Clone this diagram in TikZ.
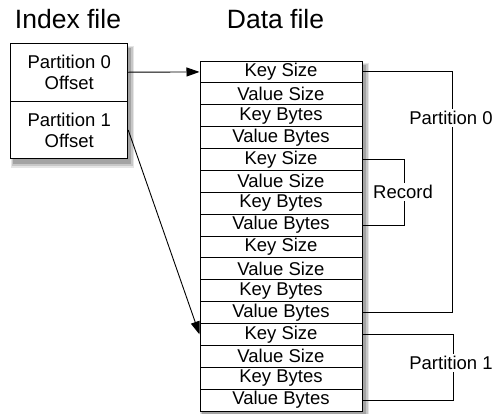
\documentclass[tikz,border=0pt]{standalone}
\usepackage{fontspec}
\setmainfont{Liberation Sans}
\usetikzlibrary{arrows.meta}

\tikzset{
  cell/.style={draw, line width=1pt, minimum width=162pt, minimum height=21.875pt,
    inner sep=0pt, font=\fontsize{18.5}{18.5}\selectfont},
  idx/.style={draw, line width=1pt, minimum width=117pt, minimum height=57.8pt,
    inner sep=0pt, align=center, font=\fontsize{18.5}{21}\selectfont},
  link/.style={line width=0.9pt, -{Triangle[length=13pt,width=9pt]}},
  brace/.style={line width=0.9pt},
  tag/.style={fill=white, inner sep=2pt, font=\fontsize{18.5}{18.5}\selectfont},
  heading/.style={anchor=base, font=\fontsize{26.5}{26.5}\selectfont}
}

\begin{document}
\begin{tikzpicture}[x=1pt,y=-1pt]
  \useasboundingbox (0,0) rectangle (495,413);

  \node[heading] (hidx) at (68,28.3) {Index file};
  \node[heading] (hdat) at (275.5,28.3) {Data file};

  % soft shadows under both boxes
  \fill[black!10] (10.7,46) rectangle (134,168);
  \fill[black!22] (11.7,47) rectangle (132.5,166);
  \fill[black!36] (12.7,48) rectangle (131,164);
  \fill[black!10] (200,63) rectangle (369,418);
  \fill[black!22] (201,64) rectangle (367.5,416);
  \fill[black!36] (202,65) rectangle (366,414);
  \fill[white] (10.7,43.3) rectangle (127.7,159);
  \fill[white] (200,61) rectangle (362,411);

  % index file, one offset per partition
  \node[idx] (p0) at (69.2,72.2) {Partition 0\\Offset};
  \node[idx] (p1) at (69.2,130) {Partition 1\\Offset};

  % data file, four records of four fields
  \foreach \r in {0,...,3}
    \foreach \t [count=\k] in {Key Size,Value Size,Key Bytes,Value Bytes}
      \node[cell] (r\r-\k) at (281,{61+(4*\r+\k-0.5)*21.875}) {\t};

  % brackets on the right
  \draw[brace] (r0-1.east) -- ++(90,0) |- (r2-4.east);
  \draw[brace] (r1-1.east) -- ++(42,0) |- (r1-4.east);
  \draw[brace] (r3-1.east) -- ++(91,0) |- (r3-4.east);
  \node[tag] (lp0) at (451,118) {Partition 0};
  \node[tag] (lrec) at (403,192) {Record};
  \node[tag] (lp1) at (451,363) {Partition 1};

  % offsets point into the data file
  \draw[link] (p0.east) -- (r0-1.west);
  \draw[link] (p1.east) -- (r3-1.west);
\end{tikzpicture}
\end{document}
